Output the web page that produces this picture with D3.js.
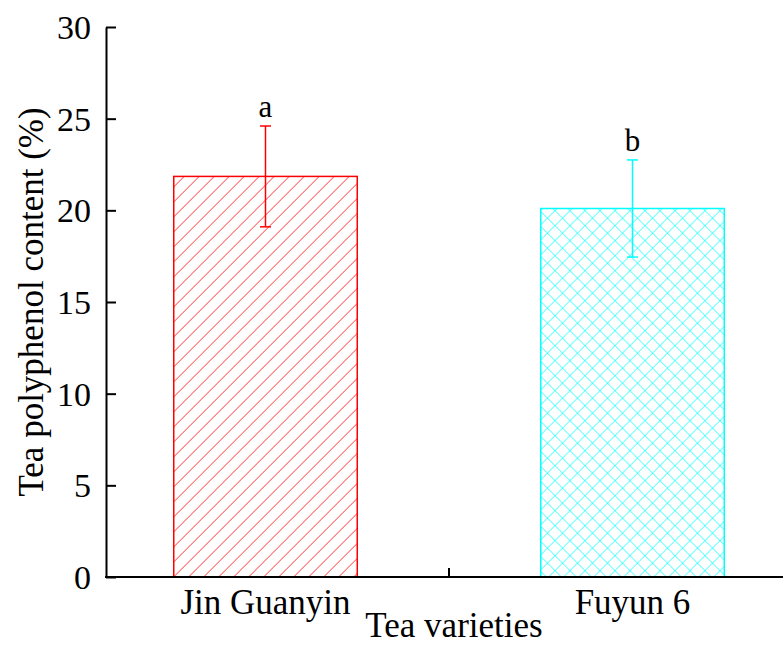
<!DOCTYPE html>
<html>
<head>
<meta charset="utf-8">
<script src="https://cdn.jsdelivr.net/npm/d3@7"></script>
<style>
  body { margin: 0; background: white; }
</style>
</head>
<body>
<div id="chart-area"></div>
<script>
var varieties = ["Jin Guanyin", "Fuyun 6"];
var means = [21.85, 20.1];
var errors = [2.75, 2.65];
var letters = ["a", "b"];
var yTicks = [0, 5, 10, 15, 20, 25, 30];

var colors = ["#ff0000", "#00ffff"];
var font = "Liberation Serif";

var svg = d3.select("#chart-area")
  .append("svg")
  .attr("width", 783)
  .attr("height", 660)
  .attr("font-family", font);

var defs = svg.append("defs");

// single diagonal hatch for the first bar
var gap = 15 / Math.SQRT2;
var hatch = defs.append("pattern")
  .attr("id", "hatch")
  .attr("patternUnits", "userSpaceOnUse")
  .attr("width", gap)
  .attr("height", gap)
  .attr("patternTransform", "rotate(45)");
hatch.append("line")
  .attr("x1", 0).attr("x2", 0)
  .attr("y1", 0).attr("y2", gap)
  .attr("stroke", colors[0])
  .attr("stroke-width", 1.2);

// cross hatch for the second bar
var cross = defs.append("pattern")
  .attr("id", "cross")
  .attr("patternUnits", "userSpaceOnUse")
  .attr("width", gap)
  .attr("height", gap)
  .attr("patternTransform", "rotate(45)");
cross.append("line")
  .attr("x1", 0).attr("x2", 0)
  .attr("y1", 0).attr("y2", gap)
  .attr("stroke", colors[1])
  .attr("stroke-width", 1.2);
cross.append("line")
  .attr("x1", 0).attr("x2", gap)
  .attr("y1", 0).attr("y2", 0)
  .attr("stroke", colors[1])
  .attr("stroke-width", 1.2);

var fills = ["url(#hatch)", "url(#cross)"];

var x = d3.scaleBand()
  .domain(varieties)
  .range([82, 816])
  .paddingInner(0.5)
  .paddingOuter(0.25);

var y = d3.scaleLinear()
  .domain([0, 30])
  .range([577, 27]);

var left = 106;

// bars
svg.selectAll(".bar")
  .data(varieties)
  .enter().append("rect")
  .attr("class", "bar")
  .attr("x", d => x(d))
  .attr("y", (d, i) => y(means[i]))
  .attr("width", x.bandwidth())
  .attr("height", (d, i) => y(0) - y(means[i]))
  .attr("fill", (d, i) => fills[i])
  .attr("stroke", (d, i) => colors[i])
  .attr("stroke-width", 1.5);

// error bars
var err = svg.selectAll(".err")
  .data(varieties)
  .enter().append("g")
  .attr("class", "err")
  .attr("stroke", (d, i) => colors[i])
  .attr("stroke-width", 1.5);

err.append("line")
  .attr("x1", d => x(d) + x.bandwidth() / 2)
  .attr("x2", d => x(d) + x.bandwidth() / 2)
  .attr("y1", (d, i) => y(means[i] + errors[i]))
  .attr("y2", (d, i) => y(means[i] - errors[i]));

err.append("line")
  .attr("x1", d => x(d) + x.bandwidth() / 2 - 5.5)
  .attr("x2", d => x(d) + x.bandwidth() / 2 + 5.5)
  .attr("y1", (d, i) => y(means[i] + errors[i]))
  .attr("y2", (d, i) => y(means[i] + errors[i]));

err.append("line")
  .attr("x1", d => x(d) + x.bandwidth() / 2 - 5.5)
  .attr("x2", d => x(d) + x.bandwidth() / 2 + 5.5)
  .attr("y1", (d, i) => y(means[i] - errors[i]))
  .attr("y2", (d, i) => y(means[i] - errors[i]));

// significance letters
svg.selectAll(".sig")
  .data(varieties)
  .enter().append("text")
  .attr("class", "sig")
  .attr("x", d => x(d) + x.bandwidth() / 2)
  .attr("y", (d, i) => y(means[i] + errors[i]) - 9)
  .attr("text-anchor", "middle")
  .attr("font-size", "31px")
  .attr("fill", "black")
  .text((d, i) => letters[i]);

// y axis
var yAxis = svg.append("g")
  .attr("transform", "translate(" + left + ",0)")
  .call(d3.axisLeft(y).tickValues(yTicks).tickSize(-10).tickPadding(15).tickSizeOuter(0));

yAxis.attr("font-family", font);

yAxis.selectAll("text")
  .attr("font-size", "34px")
  .attr("fill", "black")
  .attr("dy", "0.34em");

yAxis.selectAll(".domain, .tick line")
  .attr("stroke", "black")
  .attr("stroke-width", 2);

// x axis
var xAxis = svg.append("g")
  .attr("transform", "translate(0," + y(0) + ")");

xAxis.append("line")
  .attr("x1", left - 1)
  .attr("x2", 800)
  .attr("stroke", "black")
  .attr("stroke-width", 2);

xAxis.append("line")
  .attr("x1", x(varieties[1]) - x.step() * 0.25)
  .attr("x2", x(varieties[1]) - x.step() * 0.25)
  .attr("y1", 0)
  .attr("y2", -9)
  .attr("stroke", "black")
  .attr("stroke-width", 2);

xAxis.selectAll(".cat")
  .data(varieties)
  .enter().append("text")
  .attr("class", "cat")
  .attr("x", d => x(d) + x.bandwidth() / 2)
  .attr("y", 37)
  .attr("text-anchor", "middle")
  .attr("font-size", "35px")
  .attr("fill", "black")
  .text(d => d);

// axis titles
svg.append("text")
  .attr("x", 454)
  .attr("y", 637)
  .attr("text-anchor", "middle")
  .attr("font-size", "35px")
  .attr("fill", "black")
  .text("Tea varieties");

svg.append("text")
  .attr("transform", "translate(43,302) rotate(-90)")
  .attr("text-anchor", "middle")
  .attr("font-size", "35px")
  .attr("fill", "black")
  .text("Tea polyphenol content (%)");
</script>
</body>
</html>
